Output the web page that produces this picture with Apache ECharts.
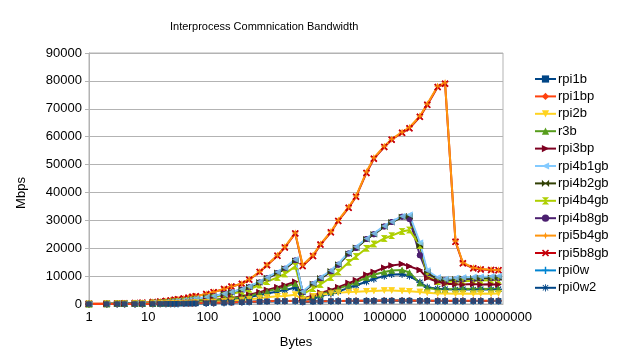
<!DOCTYPE html>
<html>
<head>
<meta charset="utf-8">
<script src="https://cdn.jsdelivr.net/npm/echarts@6/dist/echarts.min.js"></script>
<style>html,body{margin:0;padding:0;background:#fff;}#c{width:627px;height:362px;}</style>
</head>
<body>
<div id="c"></div>
<script>
// ---- data ----
const sizes = [1,2,3,4,6,8,12,16,20,24,28,32,40,48,56,64,96,128,192,256,384,512,768,1024,1536,2048,3072,4096,6144,8192,12288,16384,24576,32768,49152,65536,98304,131072,196608,262144,393216,524288,786432,1048576,1572864,2097152,3145728,4194304,6291456,8388608];
const xTicks = [1,10,100,1000,10000,100000,1000000,10000000];
const yTicks = [0,10000,20000,30000,40000,50000,60000,70000,80000,90000];

const rpi1b    = [5,9,14,19,27,35,52,68,84,100,114,128,157,185,209,233,304,370,475,551,665,750,855,930,1000,1045,1090,760,900,950,1000,1045,1090,1090,1140,1140,1190,1190,1190,1190,1140,1140,1090,1090,1090,1090,1090,1090,1090,1090];
const rpi1bp   = [5,10,15,20,28,37,55,72,88,105,120,135,165,195,220,245,320,390,500,580,700,790,900,980,1050,1100,1150,800,950,1000,1050,1100,1150,1150,1200,1200,1250,1250,1250,1250,1200,1200,1150,1150,1150,1150,1150,1150,1150,1150];
const rpi2b    = [10,20,30,40,60,80,115,150,185,220,250,280,340,400,450,500,640,760,1000,1150,1450,1700,2100,2400,2800,2900,3300,1500,2800,3300,3800,4000,4300,4400,4600,4700,4800,4800,4700,4600,4300,4000,3800,3800,3700,3800,3700,3800,3700,3800];
const r3b      = [18,36,54,72,105,140,200,265,320,380,430,490,600,700,790,880,1120,1330,1750,2000,2550,3000,3850,4600,5500,6200,7300,1800,2500,3500,4500,5500,6800,7800,9500,10500,11500,12000,12200,11300,7500,5700,5300,5300,5400,5500,5400,5500,5400,5500];
const rpi3bp   = [20,40,60,80,115,150,220,290,350,410,470,530,650,760,860,960,1220,1450,1900,2200,2800,3300,4200,5000,6000,6700,8000,2000,3000,4000,5000,6000,7500,8500,10500,11500,13000,13800,14300,13500,12200,9300,8000,7300,7100,7000,7200,7000,7100,7000];
const rpi4b1gb = [40,80,120,160,230,300,450,580,700,820,950,1050,1300,1500,1700,1900,2400,2900,3700,4300,5300,6300,8000,9500,11500,13000,16000,4500,7500,9500,12000,14500,18500,20500,23500,25300,28000,29500,31500,32000,22000,12000,9500,9000,9300,9500,9700,9800,9900,10000];
const rpi4b2gb = [38,76,115,150,220,290,430,560,680,800,920,1020,1260,1460,1660,1850,2350,2800,3600,4200,5200,6100,7800,9300,11200,12700,15500,4300,7200,9200,11700,14200,18000,20200,23200,25000,27700,29300,31200,31500,21000,11500,9000,8700,8900,9100,9200,9300,9400,9500];
const rpi4b4gb = [32,64,96,128,190,250,370,480,580,680,790,880,1080,1250,1420,1580,2000,2400,3100,3600,4500,5300,6800,8000,9500,10800,13500,3500,5500,7000,9500,11500,15000,17000,20000,21500,23500,24500,26000,26500,21000,10000,8000,7900,8100,8200,8300,8400,8500,8500];
const rpi4b8gb = [38,75,113,150,220,285,425,555,670,790,910,1010,1250,1450,1650,1840,2330,2780,3580,4150,5150,6050,7700,9200,11100,12600,15600,4200,7100,9100,11600,14100,18100,20100,23300,25000,27800,29400,31300,30500,17500,11000,8800,8500,8700,8900,9000,9100,9200,9300];
const rpi5b4gb = [60,120,180,240,350,470,700,900,1100,1300,1500,1700,2000,2300,2600,2800,3600,4300,5400,6300,7300,8800,11600,14000,17500,20500,25500,14000,17500,21500,25900,30000,34800,38700,47400,52400,56600,59100,61600,63300,67400,71700,78100,79300,22600,14800,13000,12600,12300,12200];
const rpi5b8gb = [60,115,175,235,345,460,690,890,1090,1290,1480,1680,1980,2280,2580,2790,3550,4250,5350,6250,7250,8700,11500,13900,17300,20300,25300,13600,17200,21300,25700,29800,34500,38500,47000,52100,56300,58900,61400,63000,67100,71400,77800,79000,22300,14600,12800,12400,12200,12100];
const rpi0w    = [5,10,14,19,27,36,53,70,86,102,117,131,160,190,214,238,312,380,487,565,682,770,877,955,1020,1070,1120,780,925,975,1020,1070,1120,1120,1170,1170,1220,1220,1220,1220,1170,1170,1120,1120,1120,1120,1120,1120,1120,1120];
const rpi0w2   = [15,30,45,60,88,115,170,220,270,320,360,410,500,580,660,740,930,1100,1450,1700,2150,2500,3200,3800,4500,5000,5800,1500,2000,2800,3800,4500,5800,6700,8000,9000,10000,10600,10700,10000,7800,6000,5500,5300,5200,5300,5200,5300,5200,5300];

const names  = ['rpi1b','rpi1bp','rpi2b','r3b','rpi3bp','rpi4b1gb','rpi4b2gb','rpi4b4gb','rpi4b8gb','rpi5b4gb','rpi5b8gb','rpi0w','rpi0w2'];
const values = [rpi1b,rpi1bp,rpi2b,r3b,rpi3bp,rpi4b1gb,rpi4b2gb,rpi4b4gb,rpi4b8gb,rpi5b4gb,rpi5b8gb,rpi0w,rpi0w2];

// ---- styles ----
const colors = ['#004586','#ff420e','#ffd320','#579d1c','#7e0021','#83caff','#314004','#aecf00','#4b1f6f','#ff950e','#c5000b','#0084d1','#004586'];
const symbols = [
  'rect',
  'diamond',
  'path://M0,0L10,0L5,10Z',
  'path://M5,0L10,10L0,10Z',
  'path://M0,0L10,5L0,10Z',
  'path://M10,0L0,5L10,10Z',
  'path://M0,0L5,5L0,10ZM10,0L5,5L10,10Z',
  'path://M0,0L10,0L5,5ZM0,10L10,10L5,5Z',
  'circle',
  'path://M5,0L6.3,3.7L10,5L6.3,6.3L5,10L3.7,6.3L0,5L3.7,3.7Z',
  'path://M0,1.6L1.6,0L5,3.4L8.4,0L10,1.6L6.6,5L10,8.4L8.4,10L5,6.6L1.6,10L0,8.4L3.4,5Z',
  'path://M4,0H6V4H10V6H6V10H4V6H0V4H4Z',
  'path://M4.4,0H5.6V3.6L8.3,0.9L9.1,1.7L6.4,4.4H10V5.6H6.4L9.1,8.3L8.3,9.1L5.6,6.4V10H4.4V6.4L1.7,9.1L0.9,8.3L3.6,5.6H0V4.4H3.6L0.9,1.7L1.7,0.9L4.4,3.6Z'
];
const symSizes = [5.5,7,6.5,6.5,6.5,6.5,6.5,6.5,6,7,7,7,7];
const FONT = 'Liberation Sans';

const lineOrder = [12,11,10,9,8,7,6,5,4,3,2,0,1];
const markOrder = [12,11,10,9,8,7,6,5,4,3,2,1,0];

const series = [];
lineOrder.forEach(i => {
  series.push({
    name: names[i], type: 'line', z: 2,
    data: sizes.map((s, k) => [s, values[i][k]]),
    symbol: symbols[i], symbolSize: symSizes[i], showSymbol: true,
    lineStyle: {color: colors[i], width: 2},
    itemStyle: {color: colors[i]},
    animation: false
  });
});
markOrder.forEach(i => {
  series.push({
    name: names[i], type: 'scatter', z: 3,
    data: sizes.map((s, k) => [s, values[i][k]]),
    symbol: symbols[i], symbolSize: symSizes[i],
    itemStyle: {color: colors[i]},
    animation: false
  });
});

const chart = echarts.init(document.getElementById('c'), null, {renderer: 'canvas'});
chart.setOption({
  backgroundColor: '#fff',
  animation: false,
  title: {
    text: 'Interprocess Commnication Bandwidth',
    left: 170, top: 21, padding: 0,
    textStyle: {fontFamily: FONT, fontSize: 11, fontWeight: 'normal', color: '#000'}
  },
  legend: {
    data: names, orient: 'vertical', left: 534, top: 72, padding: 0,
    itemWidth: 21, itemHeight: 9, itemGap: 3.4,
    textStyle: {fontFamily: FONT, fontSize: 13, color: '#000', lineHeight: 14, padding: [0,0,0,-3]}
  },
  grid: {left: 89, right: 124, top: 53, bottom: 58, show: true, borderColor: '#b3b3b3', borderWidth: 1, backgroundColor: 'transparent'},
  xAxis: {
    type: 'log', logBase: 10, min: xTicks[0], max: xTicks[xTicks.length-1],
    name: 'Bytes', nameLocation: 'middle', nameGap: 32,
    nameTextStyle: {fontFamily: FONT, fontSize: 13, color: '#000'},
    axisLine: {show: true, lineStyle: {color: '#b3b3b3'}},
    axisTick: {show: false},
    splitLine: {show: false},
    axisLabel: {fontFamily: FONT, fontSize: 13, color: '#000', margin: 7,
      formatter: v => String(Math.round(v))}
  },
  yAxis: {
    type: 'value', min: yTicks[0], max: yTicks[yTicks.length-1], interval: yTicks[1]-yTicks[0],
    axisLine: {show: true, lineStyle: {color: '#b3b3b3'}},
    axisTick: {show: true, inside: false, length: 4, lineStyle: {color: '#b3b3b3'}},
    splitLine: {show: true, lineStyle: {color: '#b3b3b3', width: 1}},
    axisLabel: {fontFamily: FONT, fontSize: 13, color: '#000', margin: 7,
      formatter: v => String(v)}
  },
  graphic: [{
    type: 'text', x: 21, y: 193, rotation: Math.PI/2,
    style: {text: 'Mbps', fontFamily: FONT, fontSize: 13, fill: '#000', align: 'center', verticalAlign: 'middle'}
  }],
  series: series
});
</script>
</body>
</html>
